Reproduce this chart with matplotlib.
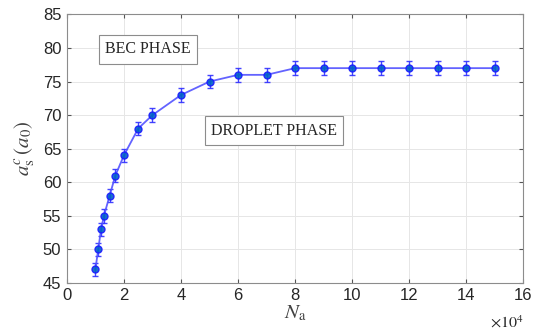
import matplotlib
matplotlib.use("Agg")
import matplotlib.pyplot as plt

# data (N_a in units of 1e4)
n_atoms = [1.0, 1.1, 1.2, 1.3, 1.5, 1.7, 2.0, 2.5, 3.0, 4.0, 5.0, 6.0, 7.0,
           8.0, 9.0, 10.0, 11.0, 12.0, 13.0, 14.0, 15.0]
a_crit = [47, 50, 53, 55, 58, 61, 64, 68, 70, 73, 75, 76, 76,
          77, 77, 77, 77, 77, 77, 77, 77]
a_err = [1.0] * len(n_atoms)

xticks = list(range(0, 17, 2))
yticks = list(range(45, 86, 5))

plt.rcParams['font.family'] = ['Liberation Sans', 'DejaVu Sans']
plt.rcParams['mathtext.fontset'] = 'stix'

fig = plt.figure(figsize=(5.39, 3.36), dpi=100)
ax = fig.add_axes([0.124, 0.158, 0.847, 0.799])

ax.errorbar(n_atoms, a_crit, yerr=a_err, color='#5252ff', lw=1.3,
            marker='o', ms=5, mfc='#0060c8', mec='#1a1aff', mew=1.0,
            ecolor='#3030ff', elinewidth=1.0, capsize=2.5, capthick=1.0,
            alpha=0.9, zorder=3)

ax.set_xlim(0, 16)
ax.set_ylim(45, 85)
ax.set_xticks(xticks)
ax.set_yticks(yticks)
ax.grid(True, color='#e6e6e6', lw=0.7)
ax.set_axisbelow(True)
ax.tick_params(direction='in', top=True, right=True, length=3, pad=4,
               color='#555555', labelcolor='#262626', labelsize=12)
for s in ax.spines.values():
    s.set_color('#8c8c8c')
    s.set_linewidth(0.8)

ax.set_xlabel(r'$N_{\rm a}$', fontsize=15, color='#404040', labelpad=0)
ax.set_ylabel(r'$a_{\rm s}^{c}\,(a_0)$', fontsize=15, color='#404040', labelpad=4)

ax.text(1.0, -0.115, r'$\times10^{4}$', transform=ax.transAxes,
        ha='right', va='top', fontsize=11.5, color='#262626')

box = dict(boxstyle='square,pad=0.4', facecolor='white', edgecolor='#8c8c8c', lw=0.8)
ax.text(2.85, 79.8, 'BEC PHASE', ha='center', va='center', fontsize=11.5,
        family='Liberation Serif', color='#262626', bbox=box)
ax.text(7.26, 67.7, 'DROPLET PHASE', ha='center', va='center', fontsize=11.5,
        family='Liberation Serif', color='#262626', bbox=box)

fig.savefig('out.png', dpi=100)
